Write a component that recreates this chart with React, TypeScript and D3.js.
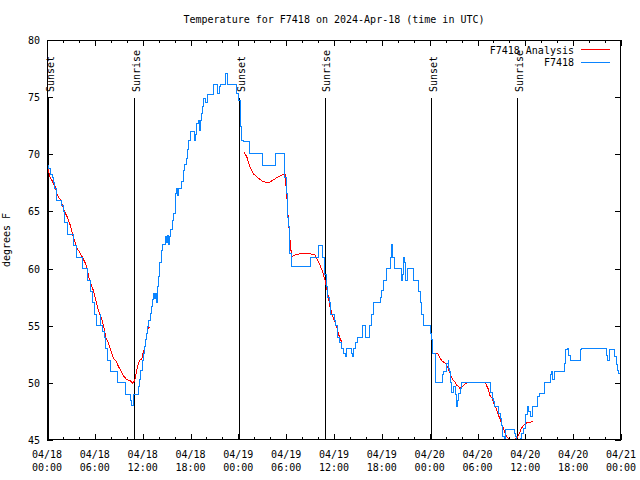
import React from "react";
import * as d3 from "d3";

// Hours since 04/18 00:00 UTC, temperature in °F
const stationF7418: [number, number][] = [
  [0.12, 69], [0.25, 68.8], [0.38, 68.2], [0.63, 68], [0.8, 67.5], [0.9, 67], [1.13, 66], [1.88, 65.5], [2.05, 65],
  [2.22, 64], [2.63, 63], [3.3, 62], [3.72, 61], [4.47, 60], [5.06, 59], [5.4, 58], [5.73, 57], [5.9, 56], [6.15, 55],
  [6.65, 56], [6.75, 55], [6.9, 54.5], [7.15, 54], [7.4, 53], [7.57, 52], [7.99, 51], [8.82, 50], [9.82, 49], [10.5, 48.5],
  [10.66, 48], [10.83, 49], [11.54, 49.7], [11.62, 50.3], [11.75, 51.1], [11.96, 52], [12.08, 52.6], [12.25, 53.2],
  [12.38, 53.8], [12.5, 54.3], [12.62, 54.9], [12.79, 55.5], [12.92, 56.1], [13.05, 56.7], [13.21, 57.3], [13.34, 57.8],
  [13.46, 57.4], [13.6, 57.8], [13.71, 57], [13.84, 58.4], [13.96, 59.3], [14.13, 60.5], [14.3, 61.6], [14.46, 62.1],
  [14.88, 62.8], [14.96, 62.3], [15.13, 62.9], [15.3, 62.1], [15.42, 62.8], [15.55, 63.4], [15.72, 64.25], [15.89, 64.8],
  [16.06, 65.7], [16.14, 66.6], [16.27, 67], [16.39, 66.4], [16.52, 67], [16.89, 67.6], [17.1, 68.6], [17.31, 69.1],
  [17.52, 69.65], [17.64, 70.4], [17.73, 71.25], [17.94, 72], [18.44, 71.25], [18.61, 71.7], [18.77, 72.7], [18.98, 73],
  [19.11, 72.1], [19.28, 73], [19.4, 73.6], [19.53, 74.2], [19.69, 74.9], [19.94, 74.5], [20.11, 75.2], [20.87, 76.1],
  [21.37, 75.3], [21.62, 75.9], [21.78, 76.1], [22.45, 77.1], [22.62, 76.1], [23.71, 75.3], [24.0, 74.7], [24.21, 73.9],
  [24.29, 72.4], [24.42, 71.25], [24.71, 71.1], [25.38, 70.1], [27.05, 69.06], [28.6, 70.1], [29.85, 68], [29.98, 66.6],
  [30.15, 64.5], [30.27, 63.7], [30.4, 61.3], [30.61, 60.17], [33.07, 61], [34.04, 62], [34.58, 61], [34.75, 60],
  [34.87, 59.5], [35.0, 58.4], [35.2, 57.5], [35.41, 57], [35.58, 56], [36.0, 55.5], [36.2, 55], [36.42, 54], [36.7, 53.5],
  [36.96, 53], [37.25, 52.6], [37.38, 52.3], [37.58, 53], [38.2, 52.6], [38.33, 52.3], [38.5, 53], [38.75, 53.5],
  [38.93, 54], [39.6, 55], [40.0, 54], [40.3, 54], [40.5, 55], [40.73, 56], [40.94, 57], [41.77, 57.5], [41.98, 58.1],
  [42.19, 59], [42.61, 60], [43.11, 61], [43.23, 62.1], [43.36, 61], [43.53, 60], [44.41, 59], [44.53, 59.5], [44.7, 61],
  [44.86, 60.5], [45.03, 59], [45.2, 60], [45.95, 59], [46.58, 58], [46.79, 57], [47.0, 56], [47.21, 55], [48.08, 54.3],
  [48.25, 53.8], [48.4, 52.6], [48.71, 50], [49.63, 50.7], [49.71, 51], [50.13, 51.7], [50.3, 52], [50.38, 51.3],
  [50.55, 51], [50.63, 50], [50.8, 49.2], [51.05, 49.7], [51.22, 49], [51.39, 47.9], [51.47, 48.5], [51.64, 49.1],
  [51.81, 49.5], [51.97, 50], [55.65, 49.2], [55.82, 48.65], [55.99, 48.4], [56.15, 47.9], [56.66, 47.3], [56.83, 46.9],
  [56.99, 46.3], [57.16, 45.3], [57.33, 44.8], [57.49, 45.9], [58.58, 45.6], [58.75, 45.3], [58.91, 44.8], [59.42, 45.1],
  [59.58, 45.6], [59.75, 46], [60.0, 46.5], [60.08, 47.2], [60.25, 47.9], [60.42, 47.5], [60.59, 47.05], [60.84, 47.9],
  [61.51, 48.8], [61.76, 49.1], [62.43, 50], [63.1, 50.7], [63.26, 51], [63.43, 50.3], [63.6, 51], [64.94, 51.7],
  [65.1, 52.9], [65.27, 53], [65.44, 52.4], [65.61, 52], [66.95, 52.9], [67.03, 53], [70.2, 52.4], [70.33, 52],
  [70.54, 52.9], [71.22, 52.3], [71.38, 51.6], [71.55, 51.1], [71.72, 50.8], [71.88, 50], [72, 50],
];

const analysisSeg1: [number, number][] = [
  [0.1, 68.8], [0.38, 68.0], [0.71, 67.6], [1.0, 67.2], [1.3, 66.4], [1.72, 66.0], [2.13, 65.1], [2.55, 64.5],
  [2.97, 63.7], [3.22, 62.9], [3.47, 62.4], [3.72, 61.8], [4.05, 61.5], [4.39, 61.05], [4.72, 60.6], [4.97, 60.2],
  [5.22, 59.3], [5.48, 58.7], [5.81, 58.1], [6.06, 57.4], [6.31, 56.7], [6.56, 56.1], [6.86, 55.65], [7.15, 54.8],
  [7.4, 53.9], [7.69, 53.5], [7.99, 52.9], [8.32, 52.15], [8.65, 51.9], [8.99, 51.4], [9.32, 51.0], [9.66, 50.55],
  [9.99, 50.3], [10.41, 50.2], [10.74, 49.97], [11.0, 50.2], [11.25, 51.1], [11.45, 51.7], [11.67, 52.0], [11.9, 52.1],
  [12.08, 52.7], [12.29, 53.2], [12.5, 54.2], [12.71, 54.8], [12.92, 54.9],
];
const analysisSeg2: [number, number][] = [
  [24.71, 70.2], [25.05, 69.8], [25.46, 68.9], [25.88, 68.3], [26.51, 67.9], [27.13, 67.6], [27.76, 67.5],
  [28.39, 67.75], [29.02, 68.05], [29.85, 68.3], [30.06, 66.6], [30.27, 64.3], [30.48, 62.5], [30.69, 61.0],
  [31.11, 61.2], [31.73, 61.3], [32.99, 61.3], [33.62, 61.2], [33.91, 60.75], [34.24, 60.3], [34.58, 59.7],
  [34.87, 59.0], [35.08, 58.3], [35.29, 57.5], [35.5, 56.67], [35.71, 56.1], [35.92, 55.65], [36.13, 55.35],
  [36.34, 54.9], [36.55, 54.3], [36.75, 53.9], [36.96, 53.6],
];
const analysisSeg3: [number, number][] = [
  [48.46, 52.6], [48.97, 52.6], [49.2, 52.3], [49.54, 51.9], [50.05, 51.7], [50.3, 51.3], [50.63, 50.7], [50.88, 50.3],
  [51.13, 50.1], [51.39, 49.8], [51.64, 49.7], [51.81, 49.5], [52.14, 49.7], [52.64, 50.0],
];
const analysisSeg4: [number, number][] = [
  [54.98, 50.0], [55.32, 49.5], [55.57, 48.9], [55.82, 48.65], [56.07, 48.2], [56.32, 47.8], [56.57, 47.3],
  [56.83, 46.8], [57.08, 46.3], [57.33, 45.9], [57.58, 45.4], [57.83, 45.15], [58.08, 45.05], [58.5, 45.05],
  [58.91, 45.15], [59.16, 45.4], [59.42, 45.9], [59.67, 46.2], [59.92, 46.4], [60.17, 46.5], [60.59, 46.5], [61.0, 46.7],
];

const sunLabels = ["Sunset", "Sunrise", "Sunset", "Sunrise", "Sunset", "Sunrise"];
const sunHours = [0.16, 10.95, 24.12, 34.87, 48.17, 58.96];

const xTickHours = [0, 6, 12, 18, 24, 30, 36, 42, 48, 54, 60, 66, 72];
const xTickDates = ["04/18", "04/18", "04/18", "04/18", "04/19", "04/19", "04/19", "04/19", "04/20", "04/20", "04/20", "04/20", "04/21"];
const xTickTimes = ["00:00", "06:00", "12:00", "18:00", "00:00", "06:00", "12:00", "18:00", "00:00", "06:00", "12:00", "18:00", "00:00"];
const yTicks = [45, 50, 55, 60, 65, 70, 75, 80];

const FONT = "'DejaVu Sans Mono', 'Liberation Mono', monospace";
const RED = "#ff0000";
const BLUE = "#0a84ff";

export default function App() {
  const W = 640, H = 480;
  const L = 47, R = 621, T = 40, B = 440;
  const x = d3.scaleLinear().domain([0, 72]).range([L, R]);
  const y = d3.scaleLinear().domain([45, 80]).range([B, T]);

  const stepLine = d3.line<[number, number]>().x(d => x(d[0])).y(d => y(d[1])).curve(d3.curveStepAfter);
  const line = d3.line<[number, number]>().x(d => x(d[0])).y(d => y(d[1]));
  const minorHours = d3.range(0, 73, 2).filter(h => h % 6 !== 0);

  return (
    <svg width={W} height={H} style={{ position: "absolute", left: 0, top: 0, background: "#fff" }} fontFamily={FONT} fontSize={10}>
      <defs>
        <clipPath id="plotclip"><rect x={L} y={T} width={R - L} height={B - T} /></clipPath>
      </defs>
      <rect x={0} y={0} width={W} height={H} fill="#fff" />
      <text x={(L + R) / 2} y={23} textAnchor="middle">Temperature for F7418 on 2024-Apr-18 (time in UTC)</text>

      {/* y ticks */}
      {yTicks.map(v => (
        <g key={"y" + v}>
          <line x1={L} x2={L + 6} y1={Math.round(y(v)) + 0.5} y2={Math.round(y(v)) + 0.5} stroke="#000" shapeRendering="crispEdges" />
          <line x1={R} x2={R - 6} y1={Math.round(y(v)) + 0.5} y2={Math.round(y(v)) + 0.5} stroke="#000" shapeRendering="crispEdges" />
          <text x={40} y={y(v) + 4} textAnchor="end">{v}</text>
        </g>
      ))}
      {/* x ticks */}
      {xTickHours.map((h, i) => (
        <g key={"x" + h}>
          <line x1={Math.round(x(h)) + 0.5} x2={Math.round(x(h)) + 0.5} y1={B} y2={B - 6} stroke="#000" shapeRendering="crispEdges" />
          <line x1={Math.round(x(h)) + 0.5} x2={Math.round(x(h)) + 0.5} y1={T} y2={T + 6} stroke="#000" shapeRendering="crispEdges" />
          <text x={x(h)} y={458} textAnchor="middle">{xTickDates[i]}</text>
          <text x={x(h)} y={471} textAnchor="middle">{xTickTimes[i]}</text>
        </g>
      ))}
      {minorHours.map(h => (
        <g key={"m" + h} shapeRendering="crispEdges">
          <line x1={Math.round(x(h)) + 0.5} x2={Math.round(x(h)) + 0.5} y1={B} y2={B - 3} stroke="#000" />
          <line x1={Math.round(x(h)) + 0.5} x2={Math.round(x(h)) + 0.5} y1={T} y2={T + 3} stroke="#000" />
        </g>
      ))}

      <text transform={`translate(10,${(T + B) / 2}) rotate(-90)`} textAnchor="middle">degrees F</text>

      {/* sunrise / sunset */}
      {sunHours.map((h, i) => (
        <g key={"s" + i}>
          <line x1={Math.round(x(h)) + 0.5} x2={Math.round(x(h)) + 0.5} y1={y(75) + 1} y2={B} stroke="#000" shapeRendering="crispEdges" />
          <text transform={`translate(${x(h) + 5.5},92) rotate(-90)`} textAnchor="start">{sunLabels[i]}</text>
        </g>
      ))}

      <g clipPath="url(#plotclip)" fill="none">
        {[analysisSeg1, analysisSeg2, analysisSeg3, analysisSeg4].map((seg, i) => (
          <path key={"a" + i} d={line(seg) || ""} stroke={RED} strokeWidth={1} shapeRendering="crispEdges" />
        ))}
        <path d={stepLine(stationF7418) || ""} stroke={BLUE} strokeWidth={1} shapeRendering="crispEdges" />
      </g>

      {/* legend */}
      <text x={574} y={53.5} textAnchor="end">F7418 Analysis</text>
      <line x1={581} x2={610} y1={49.5} y2={49.5} stroke={RED} shapeRendering="crispEdges" />
      <text x={574} y={66} textAnchor="end">F7418</text>
      <line x1={581} x2={610} y1={62.5} y2={62.5} stroke={BLUE} shapeRendering="crispEdges" />

      <rect x={L + 0.5} y={T + 0.5} width={R - L - 1} height={B - T - 1} fill="none" stroke="#000" shapeRendering="crispEdges" />
    </svg>
  );
}
